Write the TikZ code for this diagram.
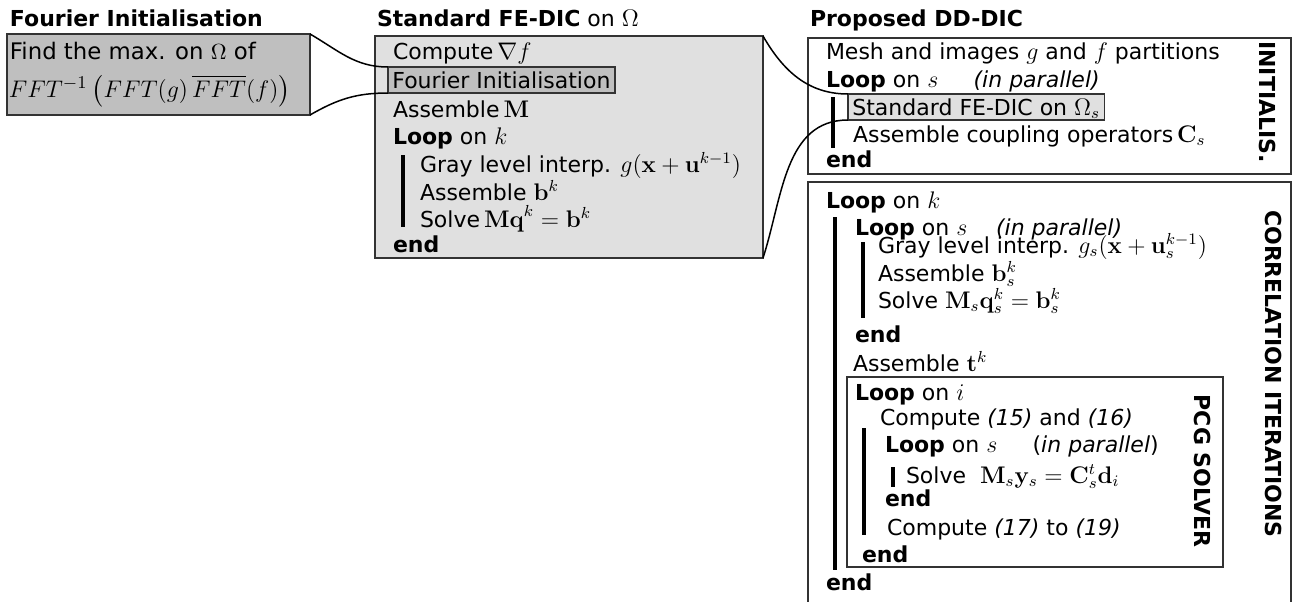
\documentclass[tikz,border=0pt]{standalone}
\usepackage{amsmath}
\usepackage{amssymb}
\usepackage[no-math]{fontspec}
\setmainfont{DejaVu Sans}
\usepackage{tikz}
\usetikzlibrary{arrows,shapes}
\DeclareMathSizes{11}{11.8}{8.3}{6}
\definecolor{darkgr}{gray}{0.75}
\definecolor{lightgr}{gray}{0.88}
\tikzstyle{alg}=[x=0.5pt, y=-0.5pt, every node/.style={inner sep=0, outer sep=0,
                anchor=west, text height=8pt, text depth=0pt,
                font=\fontsize{11}{13}\selectfont}]
\tikzstyle{frame}=[draw=black!80, line width=0.9pt, anchor=north west]
\tikzstyle{hl}=[draw=black!80, line width=0.8pt, inner xsep=2.2pt, minimum height=13pt]
\tikzstyle{bar}=[line width=2.2pt]
\tikzstyle{link}=[line width=0.75pt]
\tikzstyle{side}=[rotate=-90, anchor=center, font=\fontsize{11}{13}\selectfont\bfseries]

\begin{document}
\begin{tikzpicture}[alg]
\path[use as bounding box] (0,0) rectangle (1303,601);
% titles
\node (tfour) at (10,18) {\textbf{Fourier Initialisation}};
\node (tstd) at (377,18) {\textbf{Standard FE-DIC} on $\Omega$};
\node (tdd) at (810,18) {\textbf{Proposed DD-DIC}};
% Fourier initialisation
\node[frame, fill=darkgr, minimum width=151.5pt, minimum height=40.5pt] (fbox) at (7,34) {};
\node[font=\fontsize{11.4}{13}\selectfont] (f1) at (10,51) {Find the max. on $\Omega$ of};
\node[font=\fontsize{13.2}{15}\selectfont] (f2) at (9,89) {$FFT^{-1}\left(FFT(g)\,\overline{FFT}(f)\right)$};
% standard FE-DIC
\node[frame, fill=lightgr, minimum width=194pt, minimum height=111pt] (stdbox) at (375,36) {};
\node (s1) at (393,51) {Compute$\,\nabla f$};
\node[hl, fill=darkgr] (finit) at (388,80) {Fourier Initialisation};
\node (s2) at (393,109) {Assemble$\,\mathbf{M}$};
\node (s3) at (393,136) {\textbf{Loop} on $k$};
\node (s4) at (420,164) {Gray level interp. $g(\mathbf{x}+\mathbf{u}^{k-1})$};
\node (s5) at (420,192) {Assemble $\mathbf{b}^k$};
\node (s6) at (420,219) {Solve$\,\mathbf{Mq}^k=\mathbf{b}^k$};
\node (s7) at (393,244) {\textbf{end}};
\draw[bar] (403,155) -- (403,227);
% DD-DIC initialisation
\node[frame, fill=white, minimum width=241.5pt, minimum height=68pt] (initbox) at (808,38) {};
\node (i1) at (826,51) {Mesh and images $g$ and $f$ partitions};
\node (i2) at (826,79) {\textbf{Loop} on $s$\hspace{1.6em}\textit{(in parallel)}};
\node[hl, fill=lightgr] (stds) at (848,107) {Standard FE-DIC on $\Omega_s$};
\node (i3) at (853,134) {Assemble coupling operators$\,\mathbf{C}_s$};
\node (i4) at (826,159) {\textbf{end}};
\draw[bar] (833,97) -- (833,148);
\node[side] (initlab) at (1267,102) {INITIALIS.};
% correlation iterations
\node[frame, fill=white, minimum width=241.5pt, minimum height=214pt] (corrbox) at (808,182) {};
\node (c1) at (826,200) {\textbf{Loop} on $k$};
\draw[bar] (835,217) -- (835,570);
\node (c2) at (855,227) {\textbf{Loop} on $s$\hspace{1.3em}\textit{(in parallel)}};
\draw[bar] (863,242) -- (863,318);
\node (c3) at (878,245) {Gray level interp. $g_s(\mathbf{x}+\mathbf{u}_s^{k-1})$};
\node (c4) at (878,273) {Assemble $\mathbf{b}_s^k$};
\node (c5) at (878,300) {Solve $\mathbf{M}_s\mathbf{q}_s^k=\mathbf{b}_s^k$};
\node (c6) at (855,334) {\textbf{end}};
\node (c7) at (853,363) {Assemble $\mathbf{t}^k$};
\node[side] (corrlab) at (1273,374) {CORRELATION ITERATIONS};
% PCG solver
\node[frame, fill=white, minimum width=188pt, minimum height=95pt] (pcgbox) at (847,377) {};
\node (p1) at (855,392) {\textbf{Loop} on $i$};
\node (p2) at (880,417) {Compute \textit{(15)} and \textit{(16)}};
\draw[bar] (864,428) -- (864,535);
\node (p3) at (885,444) {\textbf{Loop} on $s$\hspace{1.6em}(\textit{in parallel})};
\draw[bar] (893,467) -- (893,487);
\node (p4) at (906,475) {Solve\ \ $\mathbf{M}_s\mathbf{y}_s=\mathbf{C}_s^t\mathbf{d}_i$};
\node (p5) at (885,498) {\textbf{end}};
\node (p6) at (887,527) {Compute \textit{(17)} to \textit{(19)}};
\node (p7) at (862,554) {\textbf{end}};
\node[side] (pcglab) at (1202,471) {PCG SOLVER};
\node (c8) at (826,582) {\textbf{end}};
% links
\draw[link] (fbox.north east) to[out=-30,in=180] (finit.north west);
\draw[link] (fbox.south east) to[out=30,in=180] (finit.south west);
\draw[link] (stdbox.north east) to[out=-60,in=180] (stds.north west);
\draw[link] (stdbox.south east) to[out=72,in=180] (stds.south west);
\end{tikzpicture}
\end{document}
